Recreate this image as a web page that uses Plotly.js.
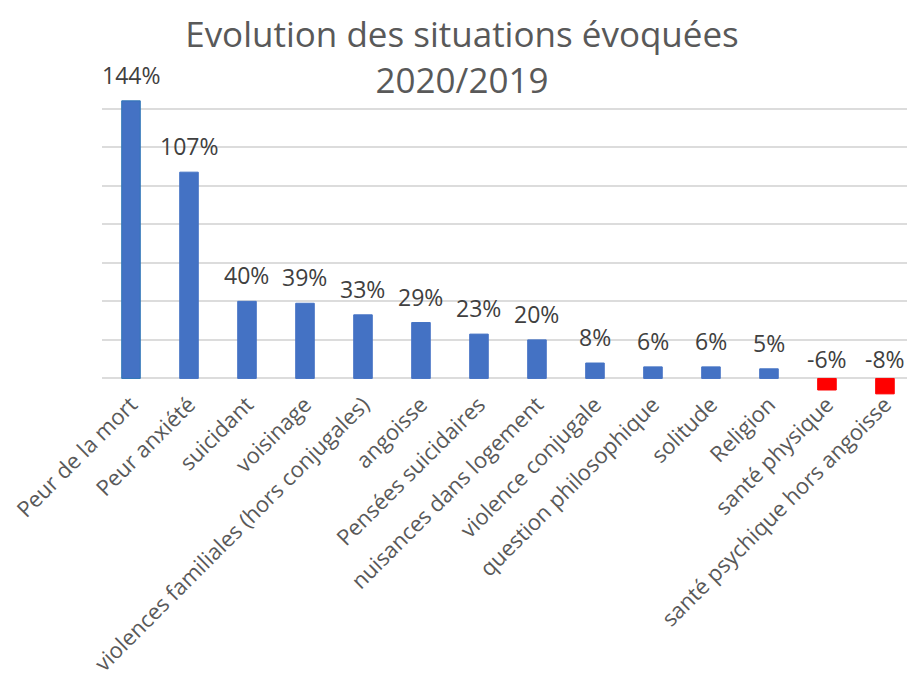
<!DOCTYPE html>
<html>
<head>
<meta charset="utf-8">
<script src="https://cdn.plot.ly/plotly-3.0.1.min.js"></script>
<style>html,body{margin:0;padding:0;background:#fff;}#chart{width:907px;height:686px;}</style>
</head>
<body>
<div id="chart"></div>
<script>
const categories = [
  "Peur de la mort", "Peur anxiété", "suicidant", "voisinage",
  "violences familiales (hors conjugales)", "angoisse", "Pensées suicidaires",
  "nuisances dans logement", "violence conjugale", "question philosophique",
  "solitude", "Religion", "santé physique", "santé psychique hors angoisse"
];
const values = [144, 107, 40, 39, 33, 29, 23, 20, 8, 6, 6, 5, -6, -8];
const valueLabels = values.map(v => v + "%");

const yMin = -20, yMax = 160;
const blue = "#4472C4", red = "#FF0000";
const barColors = values.map(v => v < 0 ? red : blue);

const traces = [{
  type: "bar",
  x: categories,
  y: values,
  marker: { color: barColors, line: { color: barColors.map((c, i) => i === 0 ? "#2E75B6" : c), width: 1 } },
  width: 0.32,
  hoverinfo: "x+y",
  showlegend: false
}];

const annotations = categories.map((c, i) => ({
  x: c,
  y: Math.max(values[i], 0),
  xref: "x", yref: "y",
  text: valueLabels[i],
  showarrow: false,
  yanchor: "bottom",
  yshift: values[i] >= 0 ? 8 : 1,
  font: { family: "Open Sans", size: 23, color: "#404040" }
}));

const layout = {
  width: 907, height: 686,
  margin: { l: 102, r: 0, t: 70, b: 269 },
  paper_bgcolor: "#ffffff", plot_bgcolor: "#ffffff",
  title: {
    text: "Evolution des situations évoquées<br>2020/2019",
    font: { family: "Open Sans", size: 35, color: "#595959" },
    x: 462 / 907, xref: "container", xanchor: "center",
    y: 1 - 47 / 686, yref: "container", yanchor: "top"
  },
  xaxis: {
    range: [-0.5, 13.38],
    anchor: "free",
    position: (0 - yMin) / (yMax - yMin),
    showgrid: false, showline: false, ticks: "",
    tickangle: -45,
    ticklabelstandoff: 8,
    tickfont: { family: "Open Sans", size: 22, color: "#595959" },
    fixedrange: true
  },
  yaxis: {
    range: [yMin, yMax],
    dtick: 20,
    showticklabels: false,
    showgrid: true, gridcolor: "#DCDCDC", gridwidth: 2,
    zeroline: true, zerolinecolor: "#DCDCDC", zerolinewidth: 2,
    showline: false, ticks: "",
    fixedrange: true
  },
  annotations: annotations,
  bargap: 0.68
};

Plotly.newPlot("chart", traces, layout, { displayModeBar: false, staticPlot: true });
</script>
</body>
</html>
